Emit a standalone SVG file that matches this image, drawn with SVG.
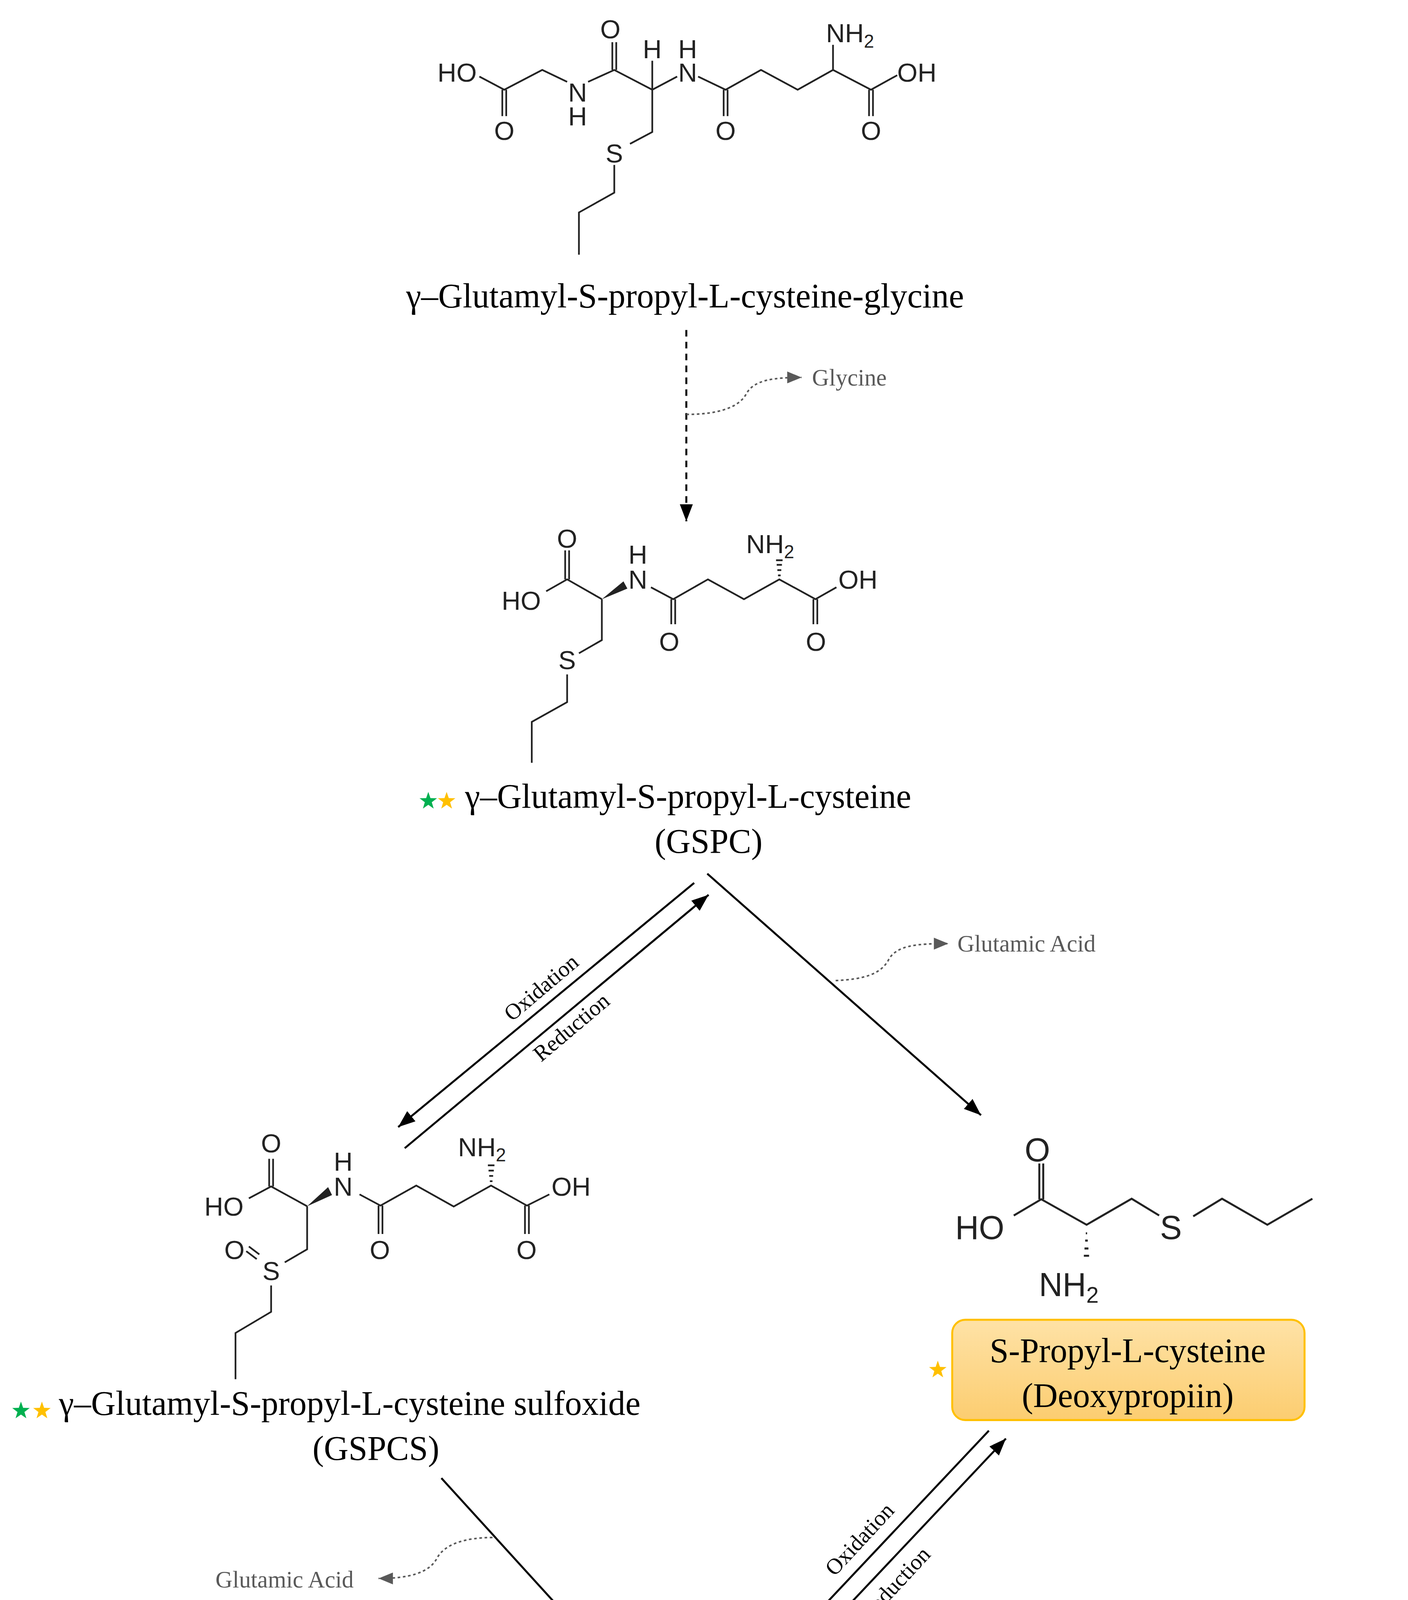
<svg xmlns="http://www.w3.org/2000/svg" width="3604" height="5284" viewBox="0 0 3604 5284">
<style>
.b{stroke:#222;stroke-width:1.3;fill:none}
.a{font-family:"Liberation Sans Narrow","Liberation Sans",Arial,sans-serif;font-size:20px;fill:#222;text-anchor:middle}
.ab{font-family:"Liberation Sans Narrow","Liberation Sans",Arial,sans-serif;font-size:25px;fill:#222;text-anchor:middle}
.t{font-family:"Liberation Serif","Times New Roman",serif;font-size:26px;fill:#000}
.g{font-family:"Liberation Serif","Times New Roman",serif;font-size:18px;fill:#595959}
.l{font-family:"Liberation Serif","Times New Roman",serif;font-size:17px;fill:#000}
.c{stroke:#000;stroke-width:1.5;fill:none}
.cg{stroke:#595959;stroke-width:1.2;fill:none;stroke-dasharray:2,2}
.box{fill:url(#og);stroke:#FFC000;stroke-width:1.5}
</style>
<defs>
<linearGradient id="og" x1="0" y1="0" x2="0" y2="1"><stop offset="0" stop-color="#FEE2A6"/><stop offset="1" stop-color="#FCCD70"/></linearGradient>
<marker id="ar" markerUnits="userSpaceOnUse" markerWidth="13" markerHeight="10" refX="13" refY="5" orient="auto"><path d="M0,0 L13,5 L0,10 z" fill="#000"/></marker>
<marker id="arg" markerUnits="userSpaceOnUse" markerWidth="11" markerHeight="9" refX="11" refY="4.5" orient="auto"><path d="M0,0 L11,4.5 L0,9 z" fill="#595959"/></marker>
<polygon id="star" points="0,-7 1.65,-2.27 6.66,-2.16 2.66,0.87 4.11,5.66 0,2.8 -4.11,5.66 -2.66,0.87 -6.66,-2.16 -1.65,-2.27"/>
</defs>
<rect width="3604" height="5284" fill="#fff"/>
<g transform="scale(3.3526 3.3786)">

<g id="gspcg">
<path class="b" d="M366,58 L385,68 L414,53 L433,62 M449,62 L469,53 L498,68 L517,58 M533,58 L554,68 L581,53 L609,68 L636,53 L665,68 L685,57 M498,68 L498,46 M636,53 L636,34 M498,68 L498,100 L481,109 M469,125 L469,146 L442,161 L442,193 M383.5,68 L383.5,88 M386.5,68 L386.5,88 M467.5,53 L467.5,32 M470.5,53 L470.5,32 M552.5,68 L552.5,88 M555.5,68 L555.5,88 M663.5,68 L663.5,88 M666.5,68 L666.5,88"/>
<text class="a" x="349" y="62">HO</text>
<text class="a" x="466" y="29">O</text>
<text class="a" x="385" y="106">O</text>
<text class="a" x="441" y="77">N</text>
<text class="a" x="441" y="95">H</text>
<text class="a" x="498" y="44">H</text>
<text class="a" x="525" y="44">H</text>
<text class="a" x="525" y="62">N</text>
<text class="a" x="554" y="106">O</text>
<text class="a" x="665" y="106">O</text>
<text class="a" x="649" y="32">NH<tspan font-size="14" dy="4">2</tspan></text>
<text class="a" x="700" y="62">OH</text>
<text class="a" x="469" y="123">S</text>
<text class="t" x="523" y="233" text-anchor="middle">γ–Glutamyl-S-propyl-L-cysteine-glycine</text>
</g>

<g id="gspc">
<path class="b" d="M417,448 L433,439 L459.5,454 M459.5,454 L459.5,485 L442,495 M433,511 L433,532 L406,547 L406,578 M497,445 L514,454 L540.5,439 L568,454 L595,439 L622.6,454 L638.6,445 M431.5,417 L431.5,439 M434.5,417 L434.5,439 M512.5,454 L512.5,473 M515.5,454 L515.5,473 M621,454 L621,473 M624,454 L624,473 M594,436 L596,436 M593.5,432 L596.5,432 M593,428 L597,428 M592.5,424.5 L597.5,424.5"/>
<polygon points="459.5,454 476,440.5 479,446" fill="#222"/>
<text class="a" x="433" y="415">O</text>
<text class="a" x="398" y="462">HO</text>
<text class="a" x="487" y="427">H</text>
<text class="a" x="487" y="446">N</text>
<text class="a" x="511" y="493">O</text>
<text class="a" x="588" y="419" text-anchor="start">NH<tspan font-size="14" dy="4">2</tspan></text>
<text class="a" x="623" y="493">O</text>
<text class="a" x="655" y="446">OH</text>
<text class="a" x="433" y="507">S</text>
<use href="#star" x="327" y="607" fill="#00B050"/>
<use href="#star" x="341" y="607" fill="#FFC000"/>
<text class="t" x="355" y="612">γ–Glutamyl-S-propyl-L-cysteine</text>
<text class="t" x="541" y="646" text-anchor="middle">(GSPC)</text>
</g>

<g id="gspcs">
<path class="b" d="M190,908 L207,899 L234.5,914 M234.5,914 L234.5,946.6 L217.4,956.5 M207,974 L207,994 L179.8,1010 L179.8,1045 M274.5,905 L290.5,913.5 L317.8,898.3 L346.4,914.2 L374.9,898.3 L402.3,913.5 L419.4,905 M205.5,878 L205.5,899 M208.5,878 L208.5,899 M289,913.5 L289,935 M292,913.5 L292,935 M400.8,913.5 L400.8,935 M403.8,913.5 L403.8,935 M188,948 L196,954 M190,944.5 L198,950.5 M374,895 L376,895 M373.5,891 L376.5,891 M373,887 L377,887 M372.5,883 L377.5,883"/>
<polygon points="234.5,914 250.5,899.5 253.5,905.5" fill="#222"/>
<text class="a" x="207" y="873">O</text>
<text class="a" x="171" y="921">HO</text>
<text class="a" x="262" y="887">H</text>
<text class="a" x="262" y="906">N</text>
<text class="a" x="290" y="954">O</text>
<text class="a" x="368" y="876" text-anchor="start">NH<tspan font-size="14" dy="4">2</tspan></text>
<text class="a" x="402" y="954">O</text>
<text class="a" x="436" y="906">OH</text>
<text class="a" x="207" y="970">S</text>
<text class="a" x="179" y="954">O</text>
<use href="#star" x="16" y="1069" fill="#00B050"/>
<use href="#star" x="32" y="1069" fill="#FFC000"/>
<text class="t" x="45" y="1072">γ–Glutamyl-S-propyl-L-cysteine sulfoxide</text>
<text class="t" x="287" y="1106" text-anchor="middle">(GSPCS)</text>
</g>

<g id="deoxypropiin">
<path class="b" style="stroke-width:1.5" d="M774,921 L795,908.7 L829.6,928 L864,908.3 L885,921 M911,921.6 L933,908.3 L967.6,928 L1002,908.3 M793.5,881.6 L793.5,908.7 M796.5,881.6 L796.5,908.7 M829,934.5 L830,934.5 M828.5,940 L830.5,940 M828,946 L831,946 M827.5,951.5 L831.5,951.5"/>
<text class="ab" x="792" y="880">O</text>
<text class="ab" x="748" y="939">HO</text>
<text class="ab" x="816" y="982" text-anchor="start">NH<tspan font-size="17" dy="5">2</tspan></text>
<text class="ab" x="894" y="939">S</text>
<rect class="box" x="727" y="1000" width="269" height="76" rx="10"/>
<text class="t" x="861" y="1032" text-anchor="middle">S-Propyl-L-cysteine</text>
<text class="t" x="861" y="1066" text-anchor="middle">(Deoxypropiin)</text>
<use href="#star" x="716" y="1038" fill="#FFC000"/>
</g>

<g id="propiin">
<path class="b" d="M452.8,1379.4 L469.5,1370.5 L498,1386.3 L527.2,1370 L544.3,1379.4 M565.7,1380.4 L584.6,1370 L612,1386.3 L641,1370 M468,1348 L468,1370.5 M471,1348 L471,1370.5 M553.5,1397 L553.5,1407 M557.5,1397 L557.5,1407 M497.5,1392 L498.5,1392 M497,1397 L499,1397 M496.5,1402 L499.5,1402 M496,1406.5 L500,1406.5"/>
<text class="a" x="469.5" y="1345">O</text>
<text class="a" x="433" y="1395">HO</text>
<text class="a" x="488" y="1430" text-anchor="start">NH<tspan font-size="14" dy="4">2</tspan></text>
<text class="a" x="555.5" y="1395">S</text>
<text class="a" x="556" y="1426">O</text>
<rect class="box" x="348" y="1458" width="355" height="76" rx="10"/>
<text class="t" x="525" y="1491" text-anchor="middle">S-Propyl-L-cysteine sulfoxide</text>
<text class="t" x="525" y="1525" text-anchor="middle">(Propiin)</text>
<use href="#star" x="325" y="1500" fill="#00B0F0"/>
<use href="#star" x="339" y="1500" fill="#FFC000"/>
</g>

<g id="connectors">
<line class="c" x1="524" y1="250" x2="524" y2="395" stroke-dasharray="5,4" marker-end="url(#ar)"/>
<path class="cg" d="M524,314 C550,314 565,308 570,298 C576,288 590,286 612,286" marker-end="url(#arg)"/>
<text class="g" x="620" y="292">Glycine</text>
<line class="c" x1="540" y1="662" x2="749" y2="845" marker-end="url(#ar)"/>
<line class="c" x1="530" y1="669" x2="304" y2="854" marker-end="url(#ar)"/>
<line class="c" x1="309" y1="870" x2="541" y2="678" marker-end="url(#ar)"/>
<text class="l" x="413" y="754" text-anchor="middle" transform="rotate(-40 413 748)" fill="#404040">Oxidation</text>
<text class="l" x="436" y="784" text-anchor="middle" transform="rotate(-40 436 778)" fill="#404040">Reduction</text>
<path class="cg" d="M638,743 C660,742 672,738 678,728 C684,716 700,715 724,715" marker-end="url(#arg)"/>
<text class="g" x="731" y="721">Glutamic Acid</text>
<line class="c" x1="337" y1="1120" x2="524" y2="1324" marker-end="url(#ar)"/>
<line class="c" x1="755" y1="1084" x2="528" y2="1323" marker-end="url(#ar)"/>
<line class="c" x1="537" y1="1333" x2="768" y2="1090" marker-end="url(#ar)"/>
<text class="l" x="656" y="1172" text-anchor="middle" transform="rotate(-47 656 1166)" fill="#404040">Oxidation</text>
<text class="l" x="683" y="1206" text-anchor="middle" transform="rotate(-47 683 1200)" fill="#404040">Reduction</text>
<path class="cg" d="M376,1165 C355,1165 340,1170 334,1180 C328,1192 312,1196 289,1196" marker-end="url(#arg)"/>
<text class="g" x="270" y="1203" text-anchor="end">Glutamic Acid</text>
</g>

<g id="legend">
<rect x="727" y="1306" width="332" height="252" rx="45" fill="#fff" stroke="#595959" stroke-width="2.5"/>
<use href="#star" x="753" y="1333" fill="#00B050"/>
<text class="l" x="771" y="1338">Identified in Black Garlic</text>
<use href="#star" x="753" y="1374" fill="#FF0066"/>
<text class="l" x="770" y="1379">Identified during in vitro digestion</text>
<text class="l" x="770" y="1401">(Moreno-Ortega et al. 2021)</text>
<use href="#star" x="753" y="1434" fill="#00B0F0"/>
<text class="l" x="769" y="1433">Identified during in vitro fermentation</text>
<text class="l" x="769" y="1455">(Moreno-Ortega et al. 2022)</text>
<use href="#star" x="753" y="1483" fill="#FFC000"/>
<text class="l" x="770" y="1488">Identified in human urine samples</text>
<rect x="742" y="1515" width="23" height="22" rx="4" fill="#FDD993" stroke="#FFC000" stroke-width="1.3"/>
<text class="l" x="770" y="1520">Main organosulfur compounds in</text>
<text class="l" x="770" y="1542">urine after black garlic ingestion</text>
</g>
</g>
</svg>
